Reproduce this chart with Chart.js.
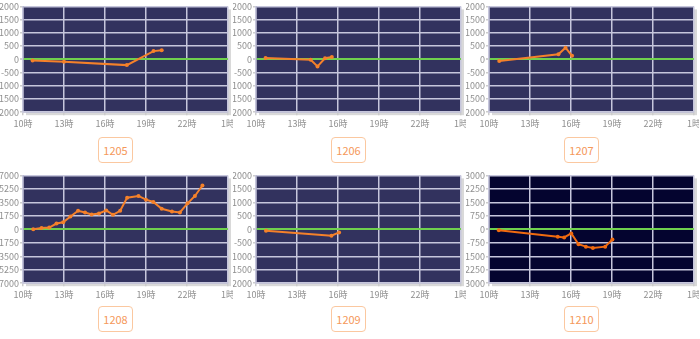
<!DOCTYPE html>
<html>
<head>
<meta charset="utf-8">
<script src="https://cdn.jsdelivr.net/npm/chart.js@4.4.1/dist/chart.umd.min.js"></script>
<style>
  body { margin:0; background:#fff; width:700px; height:339px; overflow:hidden; position:relative;
         font-family:"Noto Sans CJK JP","Noto Sans",sans-serif; }
  .panel { position:absolute; width:233px; height:170px; overflow:hidden; }
  .panel canvas { position:absolute; left:0; top:0; }
  .btn { position:absolute; left:98px; top:137px; width:33px; height:24px; border:1px solid #fbc8a0;
         border-radius:4px; color:#f5985a; font-size:11px; line-height:24px; text-align:center; }
</style>
</head>
<body>
<div class="panel" style="left:0;top:0"><canvas id="c1205" width="233" height="132"></canvas><div class="btn">1205</div></div>
<div class="panel" style="left:233px;top:0"><canvas id="c1206" width="233" height="132"></canvas><div class="btn">1206</div></div>
<div class="panel" style="left:466px;top:0"><canvas id="c1207" width="233" height="132"></canvas><div class="btn">1207</div></div>
<div class="panel" style="left:0;top:169px"><canvas id="c1208" width="233" height="134"></canvas><div class="btn">1208</div></div>
<div class="panel" style="left:233px;top:169px"><canvas id="c1209" width="233" height="134"></canvas><div class="btn">1209</div></div>
<div class="panel" style="left:466px;top:169px"><canvas id="c1210" width="233" height="134"></canvas><div class="btn">1210</div></div>
<script>
// hours (10 = 10時, 25 = 翌1時) and values for each code
var hours1205 = [10.7, 13.0, 17.6, 19.55, 20.15]
var vals1205  = [-50, -90, -220, 310, 345]

var hours1206 = [10.7, 14.0, 14.5, 15.05, 15.55]
var vals1206  = [50, -20, -270, 40, 90]

var hours1207 = [10.75, 15.08, 15.6, 16.08]
var vals1207  = [-60, 190, 440, 130]

var hours1208 = [10.75, 11.36, 11.92, 12.45, 12.94, 13.47, 14.03, 14.54, 15.02, 15.56, 16.09, 16.58,
                 17.11, 17.62, 18.45, 19.0, 19.54, 20.15, 20.9, 21.48, 22.04, 22.58, 23.13]
var vals1208  = [0, 175, 220, 745, 920, 1660, 2405, 2190, 1925, 2055, 2450, 1880,
                 2405, 4110, 4330, 3850, 3545, 2670, 2320, 2190, 3370, 4330, 5690]

var hours1209 = [10.73, 15.52, 16.08]
var vals1209  = [-50, -240, -115]

var hours1210 = [10.72, 15.03, 15.5, 16.02, 16.55, 17.09, 17.6, 18.5, 19.03]
var vals1210  = [-56, -414, -452, -230, -833, -965, -1041, -965, -568]

var xTicks = [10, 13, 16, 19, 22, 25]

var gridColor = '#c6c6dc'
var zeroColor = '#6fd04e'

var plotBg = {
    id: 'plotBg',
    beforeDraw: function(chart, args, opts) {
        var a = chart.chartArea
        var ctx = chart.ctx
        ctx.save()
        ctx.fillStyle = '#d9d9d9'
        ctx.fillRect(a.left + 3, a.top + 3, a.right - a.left, a.bottom - a.top)
        ctx.fillStyle = opts.color
        ctx.fillRect(a.left, a.top, a.right - a.left, a.bottom - a.top)
        ctx.restore()
    }
}

function drawChart(id, hours, vals, yMax, yStep, bg, lineColor) {
    var pts = hours.map(function(h, i) { return {x: h, y: vals[i]} })
    var ctx = document.getElementById(id).getContext('2d')
    new Chart(ctx, {
        type: 'line',
        data: {
            datasets: [{
                data: pts,
                borderColor: lineColor,
                backgroundColor: lineColor,
                pointBackgroundColor: lineColor,
                pointBorderWidth: 0,
                pointRadius: 2,
                borderWidth: 2,
                tension: 0,
                fill: false
            }]
        },
        options: {
            responsive: false,
            animation: false,
            layout: { padding: { top: 6, right: 5, left: 0, bottom: 0 } },
            plugins: {
                legend: { display: false },
                tooltip: { enabled: false },
                plotBg: { color: bg }
            },
            scales: {
                x: {
                    type: 'linear',
                    min: xTicks[0],
                    max: xTicks[xTicks.length - 1],
                    afterBuildTicks: function(s) { s.ticks = xTicks.map(function(v) { return {value: v} }) },
                    afterFit: function(s) { s.paddingLeft = 0; s.paddingRight = 0 },
                    ticks: {
                        color: '#8f8f8f',
                        font: { size: 9, family: '"Noto Sans CJK JP"' },
                        padding: 3,
                        maxRotation: 0,
                        autoSkip: false,
                        callback: function(v) { return (v % 24) + '時' }
                    },
                    grid: { color: gridColor, lineWidth: 1.5, tickLength: 3, tickColor: '#cccccc' },
                    border: { color: gridColor, width: 1.5 }
                },
                y: {
                    min: -yMax,
                    max: yMax,
                    afterFit: function(s) { s.width = 23 },
                    ticks: {
                        stepSize: yStep,
                        autoSkip: false,
                        color: '#8f8f8f',
                        font: { size: 9, family: '"Noto Sans CJK JP"' },
                        padding: 1,
                        callback: function(v) { return String(v) }
                    },
                    grid: {
                        color: function(c) { return c.tick && c.tick.value === 0 ? zeroColor : gridColor },
                        lineWidth: function(c) { return c.tick && c.tick.value === 0 ? 2 : 1.5 },
                        tickLength: 3,
                        tickColor: '#cccccc'
                    },
                    border: { color: gridColor, width: 1.5 }
                }
            }
        },
        plugins: [plotBg]
    })
}

var navy = '#32325e'
var orange = '#f5812a'
drawChart('c1205', hours1205, vals1205, 2000, 500, navy, orange)
drawChart('c1206', hours1206, vals1206, 2000, 500, navy, orange)
drawChart('c1207', hours1207, vals1207, 2000, 500, navy, orange)
drawChart('c1208', hours1208, vals1208, 7000, 1750, navy, orange)
drawChart('c1209', hours1209, vals1209, 2000, 500, navy, orange)
drawChart('c1210', hours1210, vals1210, 3000, 750, '#04042f', '#f06a10')
</script>
</body>
</html>
